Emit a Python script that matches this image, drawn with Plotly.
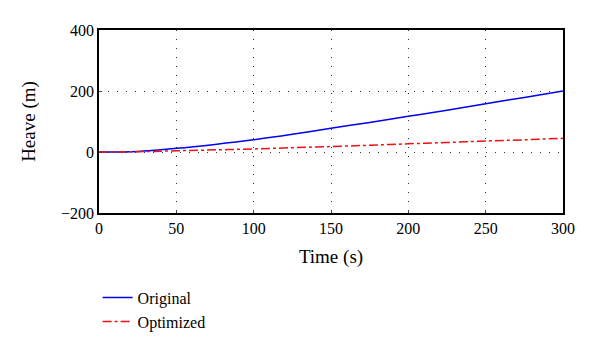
import plotly.graph_objects as go

time_s = [0, 25, 50, 75, 100, 125, 150, 175, 200, 225, 250, 275, 300]
original = [0, 2, 12, 25, 40, 58, 78, 97, 117, 137, 158, 179, 200]
optimized = [0, 1, 4, 7, 10, 14, 18, 22, 27, 31, 36, 40, 45]

x_ticks = [0, 50, 100, 150, 200, 250, 300]
y_ticks = [-200, 0, 200, 400]
y_tick_text = ["\u2212200", "0", "200", "400"]

FONT = "Liberation Serif"

fig = go.Figure()
fig.add_trace(go.Scatter(x=time_s, y=original, mode="lines", name="Original",
                         line=dict(color="#0000ee", width=1.5, shape="spline")))
fig.add_trace(go.Scatter(x=time_s, y=optimized, mode="lines", name="Optimized",
                         line=dict(color="#ee1111", width=1.5, dash="dashdot", shape="spline")))

fig.update_layout(
    width=600, height=354,
    margin=dict(l=99, r=37, t=30, b=141, autoexpand=False),
    paper_bgcolor="white", plot_bgcolor="white",
    font=dict(family=FONT, size=16, color="black"),
    showlegend=True,
    legend=dict(x=-0.003, y=-0.37, xanchor="left", yanchor="top",
                bgcolor="rgba(0,0,0,0)",
                font=dict(family=FONT, size=16), tracegroupgap=0,
                itemwidth=30),
    xaxis=dict(range=[0, 300], tickvals=x_ticks, ticks="inside", ticklen=3,
               showline=True, linecolor="black", linewidth=1.5, mirror=True,
               showgrid=True, gridcolor="#333333", griddash="1px,8px", gridwidth=1,
               zeroline=False,
               title=dict(text="Time (s)", standoff=14)),
    yaxis=dict(range=[-200, 400], tickvals=y_ticks, ticktext=y_tick_text,
               ticks="inside", ticklen=3,
               showline=True, linecolor="black", linewidth=1.5, mirror=True,
               showgrid=True, gridcolor="#333333", griddash="1px,8px", gridwidth=1,
               zeroline=False,
               title=dict(text="Heave (m)", standoff=20)),
)

fig.write_html("out.html")
